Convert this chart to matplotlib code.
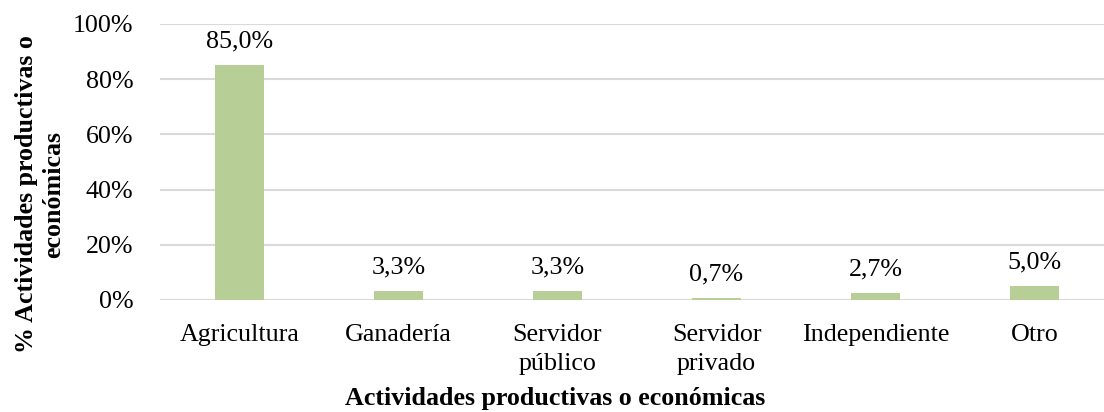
import numpy as np
import matplotlib.pyplot as plt
from matplotlib.ticker import FuncFormatter

categories = ['Agricultura', 'Ganadería', 'Servidor\npúblico', 'Servidor\nprivado',
              'Independiente', 'Otro']
values = [85.0, 3.3, 3.3, 0.7, 2.7, 5.0]
yticks = [0, 20, 40, 60, 80, 100]

plt.rcParams['font.family'] = ['Liberation Serif', 'DejaVu Serif']
fs = 18.7

fig = plt.figure(figsize=(11.04, 4.12), dpi=100)
ax = fig.add_axes([160 / 1104, 1 - 300 / 412, 954 / 1104, 276 / 412])

x = np.arange(len(categories))
bars = ax.bar(x, values, width=0.314, color='#b7cf96', zorder=3)

for xi, v in zip(x, values):
    ax.annotate(f'{v:.1f}%'.replace('.', ','), (xi, v), xytext=(0, 9),
                textcoords='offset points', ha='center', va='bottom', fontsize=fs)

ax.set_xlim(-0.5, len(categories) - 0.5)
ax.set_ylim(0, 100)
ax.set_yticks(yticks)
ax.yaxis.set_major_formatter(FuncFormatter(lambda v, p: f'{v:.0f}%'))
ax.set_xticks(x)
ax.set_xticklabels(categories, linespacing=1.42)
ax.tick_params(axis='both', length=0, labelsize=fs)
ax.tick_params(axis='x', pad=17)
ax.tick_params(axis='y', pad=19)
ax.grid(axis='y', color='#d9d9d9', linewidth=1.5, zorder=0)
for s in ax.spines.values():
    s.set_visible(False)

fig.text(0.503, 1 - 398 / 412, 'Actividades productivas o económicas', ha='center',
         va='center', fontsize=fs, fontweight='bold')
fig.text(40 / 1104, 1 - 194 / 412, '% Actividades productivas o\neconómicas', ha='center',
         va='center', rotation=90, fontsize=fs, fontweight='bold',
         multialignment='center', linespacing=1.2)

fig.savefig('out.png', dpi=100)
